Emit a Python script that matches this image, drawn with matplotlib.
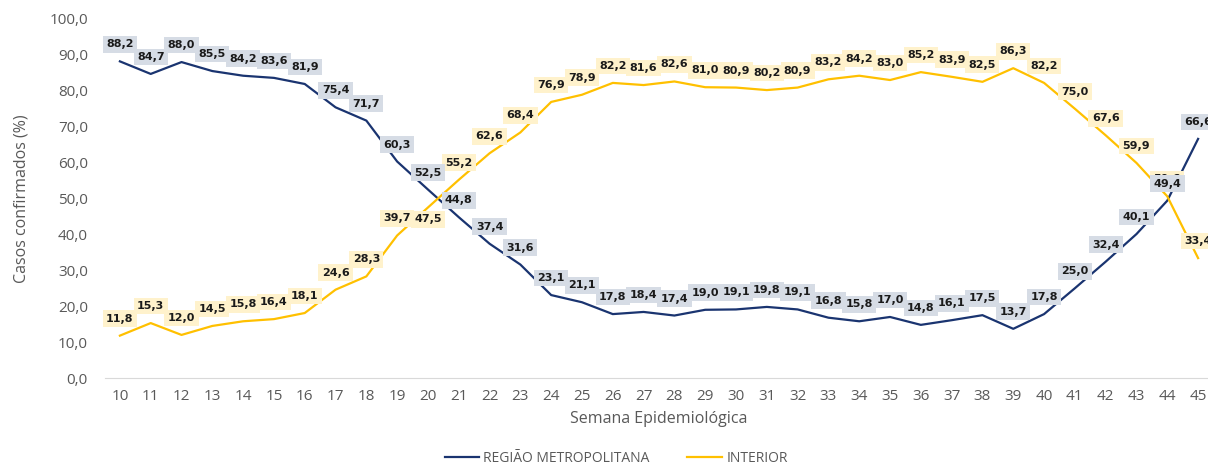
import matplotlib
matplotlib.use("Agg")
import numpy as np
from matplotlib import pyplot as plt

# data
semanas = list(range(10, 46))
metropolitana = [88.2, 84.7, 88.0, 85.5, 84.2, 83.6, 81.9, 75.4, 71.7, 60.3,
                 52.5, 44.8, 37.4, 31.6, 23.1, 21.1, 17.8, 18.4, 17.4, 19.0,
                 19.1, 19.8, 19.1, 16.8, 15.8, 17.0, 14.8, 16.1, 17.5, 13.7,
                 17.8, 25.0, 32.4, 40.1, 49.4, 66.6]
interior = [11.8, 15.3, 12.0, 14.5, 15.8, 16.4, 18.1, 24.6, 28.3, 39.7,
            47.5, 55.2, 62.6, 68.4, 76.9, 78.9, 82.2, 81.6, 82.6, 81.0,
            80.9, 80.2, 80.9, 83.2, 84.2, 83.0, 85.2, 83.9, 82.5, 86.3,
            82.2, 75.0, 67.6, 59.9, 50.6, 33.4]

cor_metro = "#1a3470"
cor_int = "#ffc000"
box_metro = "#d6dce5"
box_int = "#fff2cc"

plt.rcParams['font.family'] = ['Open Sans', 'DejaVu Sans']

fig = plt.figure(figsize=(12.08, 4.66), dpi=100)
W, H = 1208, 466
ax = fig.add_axes([104.5 / W, 1 - 378 / H, 1109 / W, (378 - 19) / H])

ax.plot(semanas, metropolitana, color=cor_metro, lw=1.6, label="REGIÃO METROPOLITANA")
ax.plot(semanas, interior, color=cor_int, lw=1.6, label="INTERIOR")

ax.set_xlim(9.5, 45.5)
ax.set_ylim(0, 100)
ax.set_xticks(semanas)
ax.set_yticks(np.arange(0, 101, 10))
ax.set_yticklabels([f"{v:.1f}".replace(".", ",") for v in np.arange(0, 101, 10)])
ax.tick_params(length=0, colors="#595959", labelsize=11)
ax.tick_params(axis="x", pad=8)
ax.tick_params(axis="y", pad=12)
for s in ["top", "right", "left"]:
    ax.spines[s].set_visible(False)
ax.spines["bottom"].set_color("#d9d9d9")

ax.set_xlabel("Semana Epidemiológica", color="#595959", fontsize=11.5, labelpad=5)
ax.set_ylabel("Casos confirmados (%)", color="#595959", fontsize=11.5, labelpad=14)


def rotular(valores, cor_box, deslocar=None):
    deslocar = deslocar or {}
    for x, v in zip(semanas, valores):
        dy = deslocar.get(x, 17)
        ax.annotate(f"{v:.1f}".replace(".", ","), (x, v), xytext=(0, dy),
                    textcoords="offset pixels", ha="center", va="center",
                    fontsize=8, fontweight="bold", color="#1a1a1a",
                    family="DejaVu Sans",
                    bbox=dict(boxstyle="square,pad=0.3", fc=cor_box, ec="none"),
                    annotation_clip=False, zorder=5)


rotular(interior, box_int, {20: -12})
rotular(metropolitana, box_metro)

fig.legend(loc="lower center", bbox_to_anchor=(0.51, -0.027), ncol=2, frameon=False,
           fontsize=10, labelcolor="#595959", handlelength=2.5, handletextpad=0.3,
           columnspacing=2.7)

fig.savefig("out.png", dpi=100)
